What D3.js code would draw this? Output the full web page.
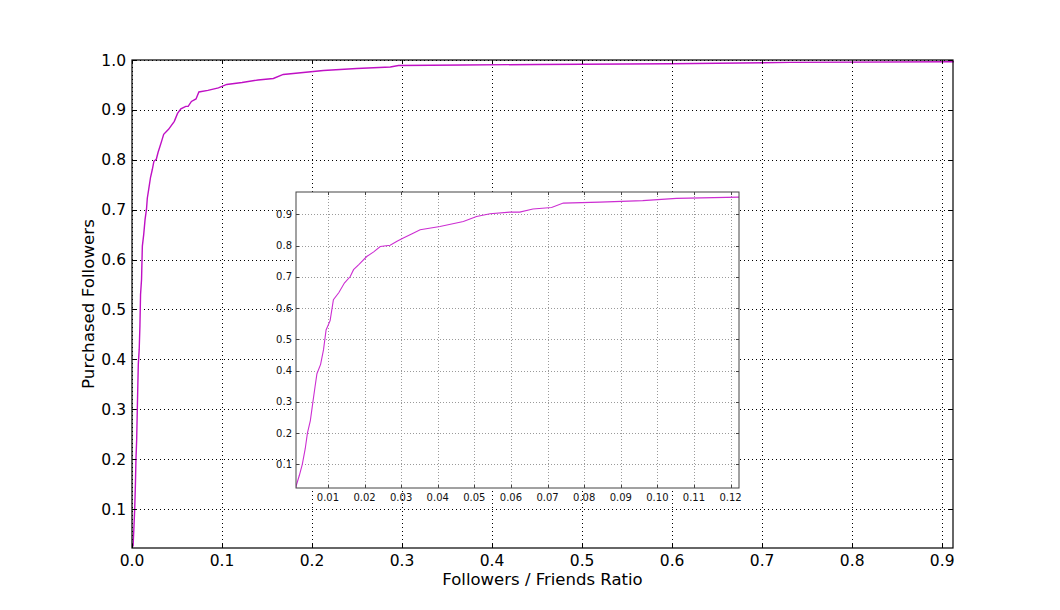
<!DOCTYPE html>
<html>
<head>
<meta charset="utf-8">
<script src="https://cdn.jsdelivr.net/npm/d3@7"></script>
<style>
  html, body { margin: 0; padding: 0; background: #fff; }
  svg { display: block; font-family: "DejaVu Sans", sans-serif; }
</style>
</head>
<body>
<svg id="chart" width="1060" height="610"></svg>
<script>
// ---- data ----
const ratio = [0.0012, 0.0015, 0.0022, 0.0030, 0.0038, 0.0044, 0.0052, 0.0059, 0.0065, 0.0070,
  0.0080, 0.0088, 0.0095, 0.0106, 0.0115, 0.0130, 0.0145, 0.0161, 0.0170, 0.0185,
  0.0206, 0.0225, 0.0243, 0.0270, 0.0290, 0.0306, 0.0330, 0.0352, 0.0406, 0.0470,
  0.0506, 0.0543, 0.0597, 0.0624, 0.0660, 0.0711, 0.0743, 0.0843, 0.0960, 0.1052,
  0.1223, 0.1400, 0.1570, 0.1680, 0.2126, 0.2497, 0.2870, 0.2960, 0.3680, 0.4500,
  0.5980, 0.7310, 0.9130];
const cdf = [0.025, 0.038, 0.065, 0.100, 0.150, 0.200, 0.240, 0.300, 0.350, 0.390,
  0.420, 0.467, 0.530, 0.560, 0.627, 0.650, 0.680, 0.701, 0.723, 0.740,
  0.765, 0.780, 0.797, 0.801, 0.815, 0.824, 0.838, 0.851, 0.861, 0.877,
  0.893, 0.902, 0.907, 0.907, 0.917, 0.922, 0.936, 0.939, 0.944, 0.951,
  0.955, 0.960, 0.963, 0.971, 0.979, 0.983, 0.986, 0.989, 0.990, 0.991,
  0.9926, 0.9952, 0.9966];
const mainXTicks = [0, 0.1, 0.2, 0.3, 0.4, 0.5, 0.6, 0.7, 0.8, 0.9];
const mainYTicks = [0.1, 0.2, 0.3, 0.4, 0.5, 0.6, 0.7, 0.8, 0.9, 1.0];
const insetXTicks = [0.01, 0.02, 0.03, 0.04, 0.05, 0.06, 0.07, 0.08, 0.09, 0.10, 0.11, 0.12];
const insetYTicks = [0.1, 0.2, 0.3, 0.4, 0.5, 0.6, 0.7, 0.8, 0.9];
const xLabel = "Followers / Friends Ratio";
const yLabel = "Purchased Followers";

const data = ratio.map((r, i) => ({x: r, y: cdf[i]}));
const svg = d3.select("#chart");

function drawAxes(g, cfg) {
  const {x, y, xTicks, yTicks, gridColor, gridDash} = cfg;
  const [x0, x1] = x.range();
  const [y0, y1] = y.range();
  g.append("rect").attr("x", x0).attr("y", y1).attr("width", x1 - x0).attr("height", y0 - y1).attr("fill", "#fff");
  const grid = g.append("g");
  grid.selectAll(".gx").data(xTicks).enter().append("line")
    .attr("x1", d => Math.round(x(d)) + 0.5).attr("x2", d => Math.round(x(d)) + 0.5)
    .attr("y1", y0).attr("y2", y1)
    .attr("stroke", gridColor).attr("stroke-width", 1).attr("stroke-dasharray", gridDash);
  grid.selectAll(".gy").data(yTicks).enter().append("line")
    .attr("y1", d => Math.round(y(d)) + 0.5).attr("y2", d => Math.round(y(d)) + 0.5)
    .attr("x1", x0).attr("x2", x1)
    .attr("stroke", gridColor).attr("stroke-width", 1).attr("stroke-dasharray", gridDash);
}

function drawFrame(g, cfg) {
  const {x, y, xTicks, yTicks, xFmt, yFmt, fontSize, spineColor, tickLen, labelPadX, labelPadY, textColor} = cfg;
  const [x0, x1] = x.range();
  const [y0, y1] = y.range();
  const t = g.append("g").attr("stroke", spineColor).attr("stroke-width", 1);
  xTicks.forEach(d => {
    const px = Math.round(x(d)) + 0.5;
    t.append("line").attr("x1", px).attr("x2", px).attr("y1", y0).attr("y2", y0 - tickLen);
    t.append("line").attr("x1", px).attr("x2", px).attr("y1", y1).attr("y2", y1 + tickLen);
  });
  yTicks.forEach(d => {
    const py = Math.round(y(d)) + 0.5;
    t.append("line").attr("y1", py).attr("y2", py).attr("x1", x0).attr("x2", x0 + tickLen);
    t.append("line").attr("y1", py).attr("y2", py).attr("x1", x1).attr("x2", x1 - tickLen);
  });
  g.append("rect").attr("x", x0).attr("y", y1).attr("width", x1 - x0).attr("height", y0 - y1)
    .attr("fill", "none").attr("stroke", spineColor).attr("stroke-width", cfg.spineWidth || 1);
  g.append("g").selectAll("text").data(xTicks).enter().append("text")
    .attr("x", d => x(d)).attr("y", y0 + labelPadY)
    .attr("text-anchor", "middle").attr("font-size", fontSize).attr("fill", textColor)
    .text(xFmt);
  g.append("g").selectAll("text").data(yTicks).enter().append("text")
    .attr("x", x0 - labelPadX).attr("y", d => y(d)).attr("dy", "0.36em")
    .attr("text-anchor", "end").attr("font-size", fontSize).attr("fill", textColor)
    .text(yFmt);
}

// ---- main axes ----
const mx = d3.scaleLinear().domain([0, 0.912]).range([132, 953]);
const my = d3.scaleLinear().domain([0.022, 1.0]).range([548, 60]);
const mainG = svg.append("g");
const mainCfg = {x: mx, y: my, xTicks: mainXTicks, yTicks: mainYTicks,
  xFmt: d3.format(".1f"), yFmt: d3.format(".1f"), fontSize: 15.5,
  gridColor: "#000", gridDash: "1,3", spineColor: "#000", spineWidth: 1.2, tickLen: 4,
  labelPadX: 6, labelPadY: 18, textColor: "#000"};
drawAxes(mainG, mainCfg);
const line = (x, y) => d3.line().x(d => x(d.x)).y(d => y(d.y));
mainG.append("path").datum(data).attr("d", line(mx, my))
  .attr("fill", "none").attr("stroke", "#bf10c4").attr("stroke-width", 1.4);
drawFrame(mainG, mainCfg);

svg.append("text").attr("x", (132 + 953) / 2).attr("y", 585)
  .attr("text-anchor", "middle").attr("font-size", 16.5).text(xLabel);
svg.append("text").attr("transform", `translate(94,${(60 + 548) / 2}) rotate(-90)`)
  .attr("text-anchor", "middle").attr("font-size", 16.7).text(yLabel);

// ---- inset axes ----
const ix = d3.scaleLinear().domain([0.00128, 0.1223]).range([296, 739]);
const iy = d3.scaleLinear().domain([0.0243, 0.9715]).range([488, 192]);
const insetG = svg.append("g");
const insetCfg = {x: ix, y: iy, xTicks: insetXTicks, yTicks: insetYTicks,
  xFmt: d3.format(".2f"), yFmt: d3.format(".1f"), fontSize: 10,
  gridColor: "#9a9a9a", gridDash: "1,2", spineColor: "#444", spineWidth: 1, tickLen: 3,
  labelPadX: 4, labelPadY: 13, textColor: "#111"};
drawAxes(insetG, insetCfg);
insetG.append("clipPath").attr("id", "insetClip").append("rect")
  .attr("x", 296).attr("y", 192).attr("width", 443).attr("height", 296);
insetG.append("path").datum(data.filter(d => d.x <= 0.14)).attr("d", line(ix, iy))
  .attr("clip-path", "url(#insetClip)")
  .attr("fill", "none").attr("stroke", "#cc2ed2").attr("stroke-width", 1.1);
drawFrame(insetG, insetCfg);
</script>
</body>
</html>
